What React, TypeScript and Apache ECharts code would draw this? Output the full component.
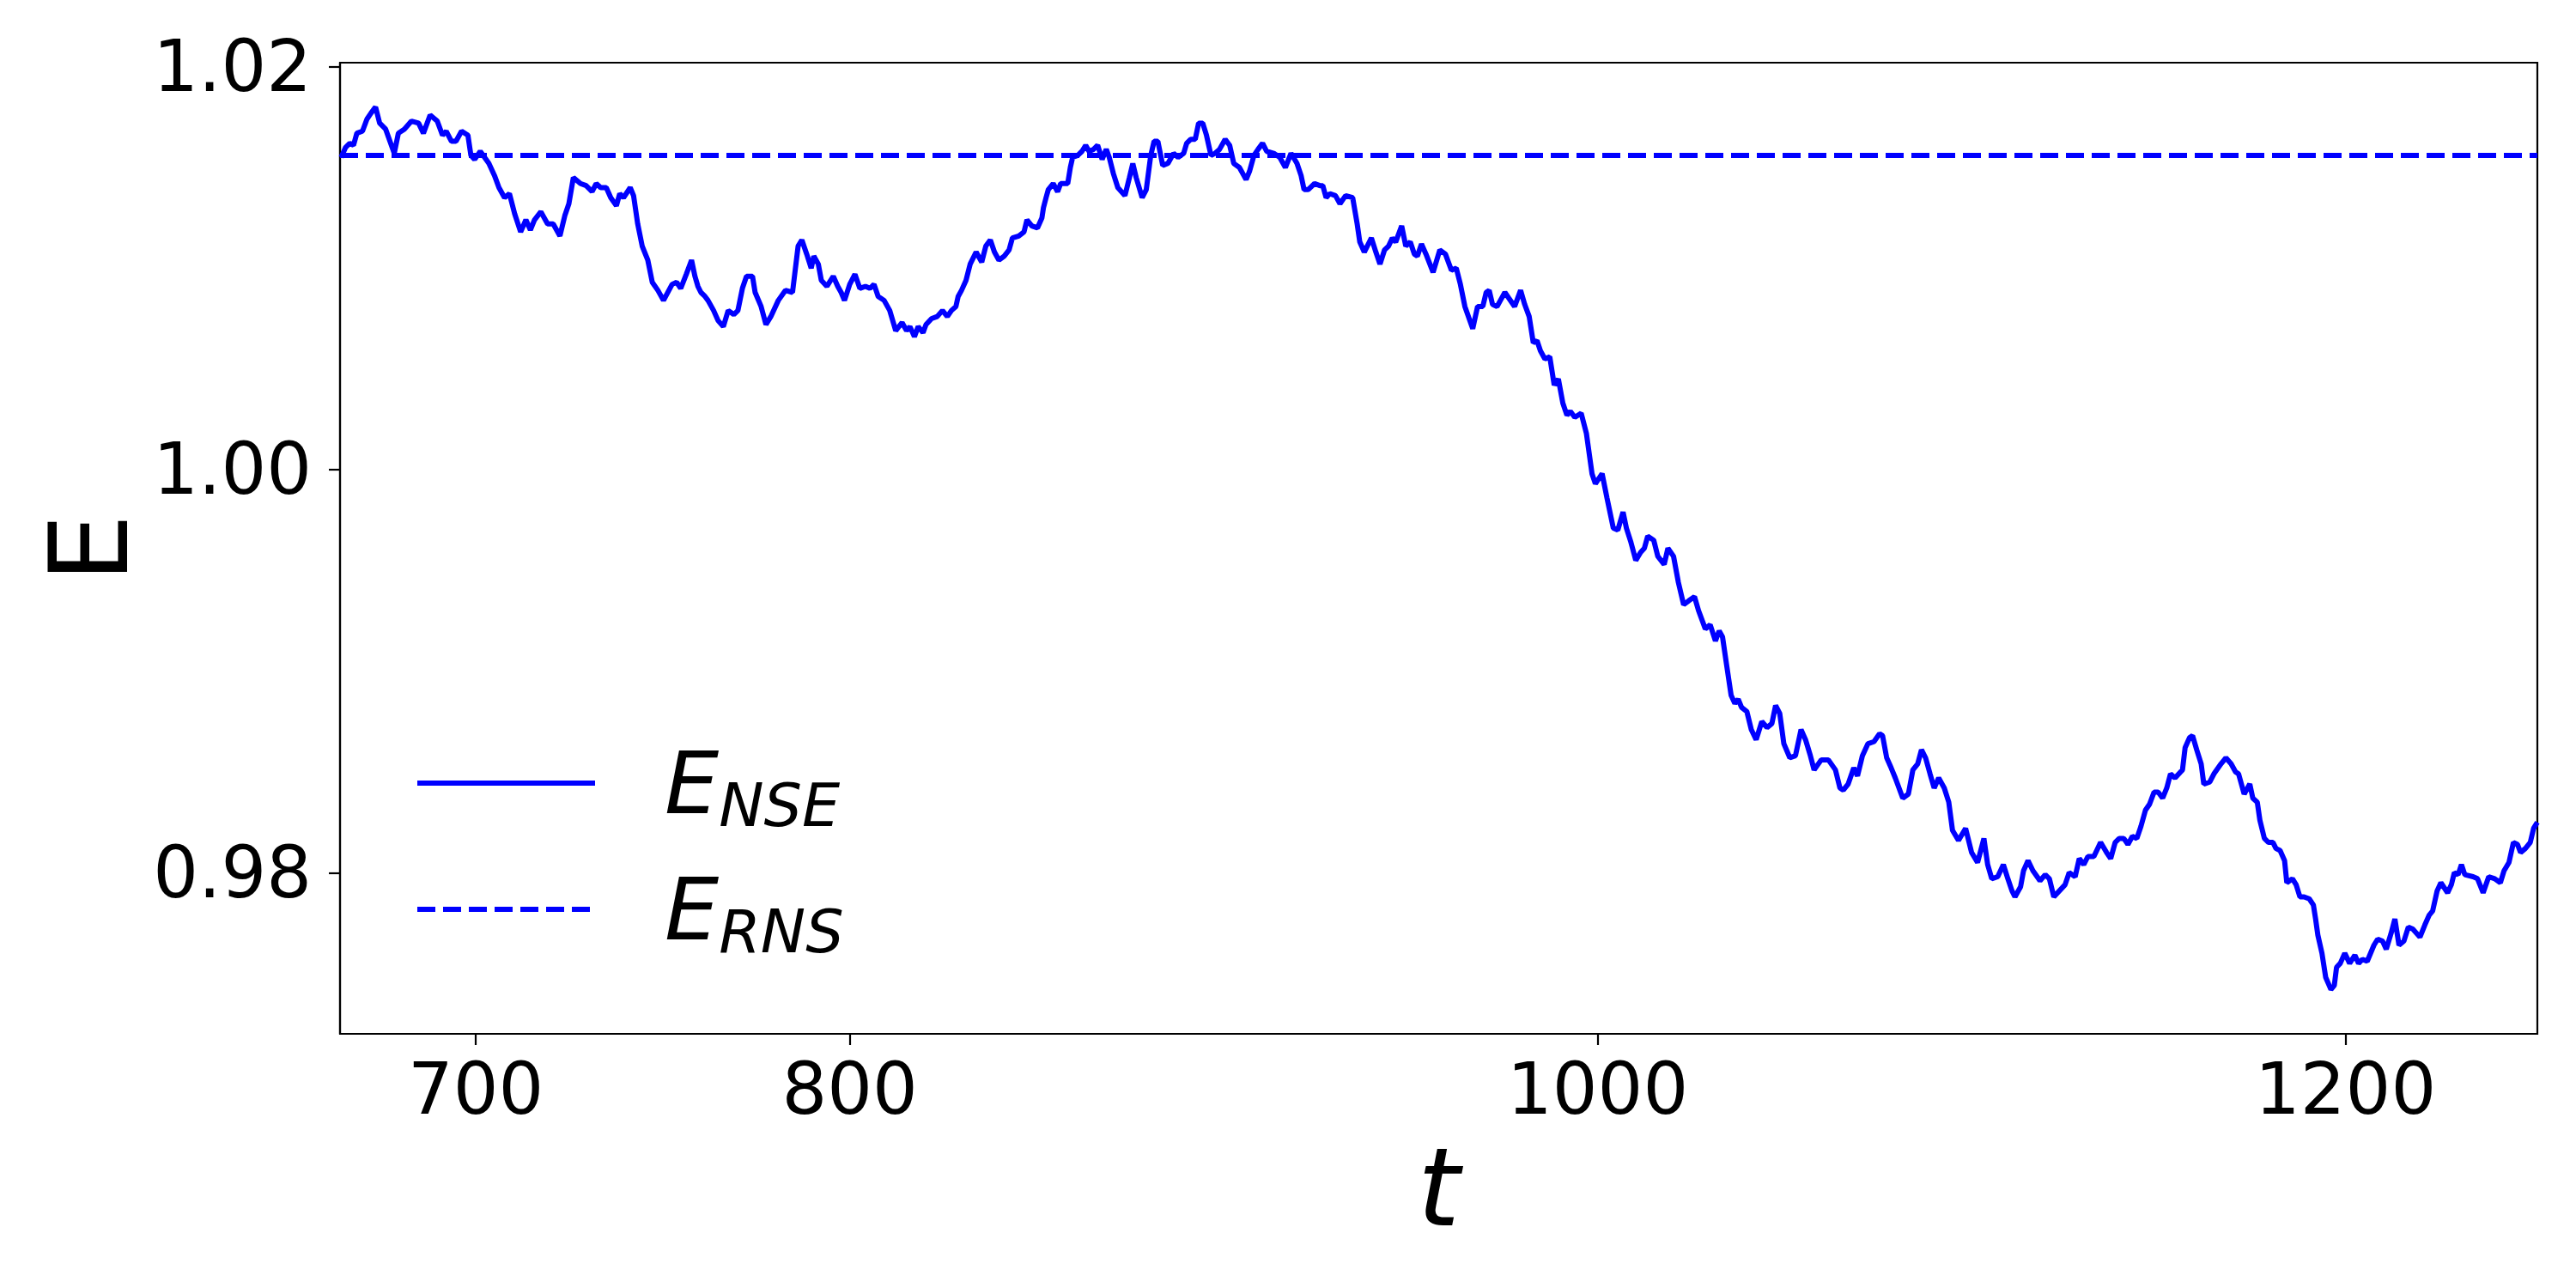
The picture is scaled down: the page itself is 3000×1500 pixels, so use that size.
import React, { useEffect, useRef } from "react";
import * as echarts from "echarts";

// time samples of the NSE energy curve
const tNSE: number[] = [
  664.0, 665.2, 666.3, 667.3, 668.2, 669.7, 670.9, 672.0, 673.2, 674.3, 675.9, 678.2, 679.3, 680.9, 682.8, 684.7, 686.0, 687.8, 689.7, 691.1,
  692.1, 693.5, 694.7, 696.2, 697.9, 698.7, 699.7, 701.2, 703.5, 705.0, 706.2, 707.7, 709.0, 710.4, 712.0, 713.4, 714.6, 715.7, 717.4, 719.2,
  720.7, 722.5, 723.8, 724.9, 726.1, 728.0, 729.5, 731.1, 732.2, 733.4, 734.9, 736.1, 737.6, 738.5, 739.5, 741.3, 742.2, 743.3, 744.5, 746.0,
  747.2, 748.7, 750.2, 752.5, 753.7, 754.8, 756.3, 757.7, 758.6, 759.4, 760.2, 761.3, 762.1, 763.6, 764.8, 766.2, 767.5, 769.0, 770.1, 771.3,
  772.4, 774.0, 774.7, 776.3, 777.6, 778.9, 780.9, 782.8, 784.7, 786.2, 787.2, 788.5, 789.7, 790.4, 791.6, 792.4, 793.9, 795.6, 796.8, 797.7,
  798.6, 800.0, 801.4, 802.7, 804.2, 805.4, 806.5, 807.6, 809.2, 810.7, 812.3, 814.0, 815.2, 816.1, 817.3, 818.3, 819.6, 820.4, 821.9, 823.4,
  824.8, 826.1, 827.2, 828.4, 829.0, 829.9, 831.1, 832.2, 833.8, 835.3, 836.4, 837.6, 838.7, 839.9, 841.3, 842.6, 843.5, 845.2, 846.6, 847.4,
  848.7, 850.2, 851.4, 851.8, 852.5, 853.1, 854.4, 855.6, 856.4, 858.3, 859.0, 859.6, 861.0, 862.1, 863.1, 864.0, 865.2, 866.3, 867.5, 868.6,
  869.4, 870.5, 871.7, 873.6, 874.8, 875.7, 876.6, 878.2, 879.3, 880.5, 881.4, 882.4, 883.7, 885.1, 886.6, 887.8, 889.3, 890.1, 891.2, 892.4,
  893.3, 894.4, 895.4, 896.6, 897.7, 898.9, 900.4, 901.6, 902.7, 904.2, 906.0, 906.9, 908.1, 909.2, 910.4, 911.5, 913.4, 915.0, 916.5, 918.0,
  919.6, 920.7, 921.5, 922.6, 924.3, 925.7, 926.5, 927.4, 928.4, 929.9, 931.1, 932.6, 934.5, 935.7, 936.4, 937.6, 939.5, 940.7, 941.8, 943.0,
  944.1, 945.1, 946.0, 947.6, 948.7, 949.9, 951.0, 951.8, 952.9, 954.1, 956.0, 957.8, 959.3, 960.9, 962.2, 963.3, 964.5, 966.6, 967.9, 969.3,
  970.2, 971.0, 971.9, 973.1, 974.0, 975.2, 976.3, 977.8, 979.4, 980.5, 981.7, 982.8, 983.8, 984.7, 985.9, 987.2, 988.4, 989.5, 990.7, 991.8,
  992.7, 993.9, 995.6, 997.0, 998.5, 999.4, 1001.2, 1002.5, 1004.2, 1005.4, 1006.8, 1007.7, 1008.9, 1010.2, 1011.5, 1012.5, 1013.4, 1015.0, 1016.1, 1017.8,
  1018.8, 1020.3, 1021.6, 1023.0, 1024.4, 1025.9, 1027.0, 1028.8, 1030.1, 1031.5, 1032.5, 1033.4, 1034.5, 1035.7, 1036.7, 1037.6, 1038.5, 1039.9, 1041.1, 1042.4,
  1043.9, 1045.3, 1046.6, 1047.6, 1048.7, 1049.8, 1051.4, 1052.9, 1054.4, 1055.6, 1056.9, 1057.9, 1059.8, 1061.7, 1063.6, 1064.8, 1065.7, 1067.0, 1068.5, 1069.5,
  1070.8, 1072.3, 1073.9, 1075.4, 1076.2, 1077.3, 1078.5, 1079.6, 1081.6, 1083.1, 1084.3, 1085.6, 1086.6, 1087.7, 1088.9, 1090.0, 1091.2, 1092.7, 1093.9, 1094.9,
  1096.5, 1098.4, 1100.0, 1101.6, 1103.3, 1104.3, 1105.4, 1107.0, 1108.5, 1109.7, 1110.8, 1111.6, 1113.1, 1113.9, 1115.1, 1116.4, 1118.3, 1119.7, 1120.8, 1122.0,
  1123.5, 1125.0, 1126.1, 1127.7, 1128.8, 1130.0, 1131.1, 1132.7, 1134.5, 1136.1, 1137.2, 1138.4, 1139.5, 1140.7, 1141.8, 1143.0, 1144.2, 1145.3, 1146.5, 1147.6,
  1148.8, 1149.9, 1151.1, 1152.2, 1153.2, 1154.4, 1156.4, 1157.1, 1158.3, 1159.1, 1160.2, 1161.4, 1162.1, 1163.7, 1164.8, 1166.7, 1168.0, 1169.4, 1170.6, 1171.4,
  1172.9, 1174.4, 1175.2, 1176.4, 1177.1, 1178.3, 1179.4, 1180.6, 1181.4, 1182.5, 1183.7, 1184.3, 1185.8, 1186.8, 1187.8, 1188.9, 1190.3, 1191.4, 1192.0, 1192.6,
  1193.7, 1194.7, 1196.1, 1197.0, 1197.6, 1198.6, 1199.8, 1201.1, 1202.5, 1203.5, 1204.5, 1205.8, 1207.6, 1208.6, 1209.9, 1210.9, 1212.2, 1213.2, 1214.3, 1215.6,
  1216.8, 1218.0, 1219.9, 1221.2, 1222.4, 1223.3, 1224.5, 1225.5, 1227.3, 1228.3, 1229.1, 1230.1, 1231.0, 1231.9, 1234.1, 1235.3, 1236.8, 1238.3, 1239.9, 1241.4,
  1242.4, 1243.7, 1244.9, 1246.0, 1246.8, 1248.1, 1249.4, 1250.3, 1251.3,
];

// energy values of the NSE curve
const eNSE: number[] = [
  1.0155, 1.0160, 1.0162, 1.0161, 1.0167, 1.0168, 1.0174, 1.0177, 1.0180, 1.0172, 1.0169, 1.0157, 1.0167, 1.0169, 1.0173, 1.0172, 1.0167, 1.0176, 1.0173, 1.0166,
  1.0168, 1.0163, 1.0163, 1.0168, 1.0166, 1.0156, 1.0154, 1.0158, 1.0152, 1.0146, 1.0140, 1.0135, 1.0137, 1.0127, 1.0118, 1.0124, 1.0119, 1.0124, 1.0128, 1.0122,
  1.0122, 1.0116, 1.0126, 1.0132, 1.0145, 1.0142, 1.0141, 1.0138, 1.0142, 1.0140, 1.0140, 1.0135, 1.0131, 1.0137, 1.0135, 1.0140, 1.0136, 1.0122, 1.0111, 1.0104,
  1.0093, 1.0089, 1.0084, 1.0092, 1.0093, 1.0090, 1.0097, 1.0104, 1.0096, 1.0091, 1.0088, 1.0086, 1.0084, 1.0079, 1.0074, 1.0071, 1.0079, 1.0077, 1.0079, 1.0090,
  1.0096, 1.0096, 1.0088, 1.0081, 1.0072, 1.0076, 1.0084, 1.0089, 1.0088, 1.0111, 1.0114, 1.0107, 1.0100, 1.0106, 1.0102, 1.0094, 1.0091, 1.0096, 1.0091, 1.0088,
  1.0084, 1.0092, 1.0097, 1.0090, 1.0091, 1.0090, 1.0092, 1.0086, 1.0084, 1.0079, 1.0069, 1.0073, 1.0069, 1.0071, 1.0066, 1.0071, 1.0068, 1.0072, 1.0075, 1.0076,
  1.0079, 1.0076, 1.0079, 1.0081, 1.0086, 1.0089, 1.0094, 1.0102, 1.0108, 1.0103, 1.0111, 1.0114, 1.0108, 1.0104, 1.0106, 1.0109, 1.0115, 1.0116, 1.0118, 1.0124,
  1.0121, 1.0120, 1.0125, 1.0130, 1.0135, 1.0139, 1.0142, 1.0138, 1.0142, 1.0142, 1.0150, 1.0155, 1.0156, 1.0158, 1.0161, 1.0158, 1.0159, 1.0161, 1.0154, 1.0159,
  1.0155, 1.0147, 1.0140, 1.0136, 1.0145, 1.0152, 1.0145, 1.0135, 1.0139, 1.0156, 1.0163, 1.0163, 1.0151, 1.0152, 1.0157, 1.0155, 1.0157, 1.0162, 1.0164, 1.0164,
  1.0172, 1.0172, 1.0166, 1.0156, 1.0157, 1.0159, 1.0164, 1.0161, 1.0152, 1.0150, 1.0144, 1.0148, 1.0156, 1.0159, 1.0162, 1.0158, 1.0157, 1.0155, 1.0150, 1.0157,
  1.0152, 1.0146, 1.0139, 1.0139, 1.0142, 1.0141, 1.0141, 1.0135, 1.0137, 1.0136, 1.0132, 1.0136, 1.0135, 1.0122, 1.0113, 1.0108, 1.0115, 1.0108, 1.0102, 1.0109,
  1.0111, 1.0115, 1.0113, 1.0121, 1.0111, 1.0113, 1.0107, 1.0106, 1.0112, 1.0107, 1.0098, 1.0109, 1.0107, 1.0099, 1.0100, 1.0092, 1.0081, 1.0070, 1.0081, 1.0081,
  1.0088, 1.0089, 1.0082, 1.0081, 1.0084, 1.0088, 1.0085, 1.0081, 1.0089, 1.0082, 1.0076, 1.0063, 1.0064, 1.0059, 1.0055, 1.0056, 1.0042, 1.0045, 1.0033, 1.0027,
  1.0029, 1.0026, 1.0028, 1.0018, 0.9998, 0.9993, 0.9998, 0.9986, 0.9971, 0.9970, 0.9979, 0.9971, 0.9964, 0.9955, 0.9959, 0.9961, 0.9967, 0.9965, 0.9957, 0.9953,
  0.9961, 0.9957, 0.9944, 0.9933, 0.9935, 0.9937, 0.9930, 0.9921, 0.9923, 0.9915, 0.9920, 0.9917, 0.9903, 0.9888, 0.9884, 0.9886, 0.9882, 0.9880, 0.9871, 0.9866,
  0.9875, 0.9872, 0.9874, 0.9883, 0.9879, 0.9864, 0.9857, 0.9858, 0.9871, 0.9866, 0.9858, 0.9851, 0.9856, 0.9856, 0.9851, 0.9842, 0.9841, 0.9844, 0.9852, 0.9848,
  0.9858, 0.9864, 0.9865, 0.9869, 0.9868, 0.9857, 0.9852, 0.9847, 0.9837, 0.9839, 0.9851, 0.9854, 0.9861, 0.9857, 0.9849, 0.9842, 0.9847, 0.9842, 0.9835, 0.9821,
  0.9816, 0.9822, 0.9810, 0.9805, 0.9817, 0.9804, 0.9797, 0.9798, 0.9804, 0.9797, 0.9791, 0.9788, 0.9793, 0.9801, 0.9806, 0.9801, 0.9796, 0.9799, 0.9797, 0.9788,
  0.9791, 0.9794, 0.9800, 0.9798, 0.9807, 0.9804, 0.9808, 0.9808, 0.9815, 0.9810, 0.9807, 0.9815, 0.9817, 0.9817, 0.9814, 0.9818, 0.9817, 0.9823, 0.9831, 0.9834,
  0.9840, 0.9840, 0.9837, 0.9842, 0.9849, 0.9847, 0.9851, 0.9862, 0.9867, 0.9868, 0.9861, 0.9854, 0.9844, 0.9845, 0.9849, 0.9854, 0.9857, 0.9854, 0.9850, 0.9849,
  0.9839, 0.9844, 0.9837, 0.9835, 0.9826, 0.9817, 0.9815, 0.9815, 0.9812, 0.9811, 0.9806, 0.9795, 0.9797, 0.9794, 0.9788, 0.9788, 0.9787, 0.9784, 0.9777, 0.9769,
  0.9760, 0.9748, 0.9742, 0.9744, 0.9753, 0.9755, 0.9760, 0.9755, 0.9759, 0.9755, 0.9757, 0.9756, 0.9764, 0.9767, 0.9766, 0.9762, 0.9770, 0.9777, 0.9764, 0.9766,
  0.9773, 0.9772, 0.9768, 0.9774, 0.9779, 0.9781, 0.9791, 0.9795, 0.9790, 0.9794, 0.9800, 0.9799, 0.9804, 0.9799, 0.9798, 0.9797, 0.9790, 0.9798, 0.9797, 0.9795,
  0.9801, 0.9805, 0.9815, 0.9814, 0.9810, 0.9812, 0.9815, 0.9822, 0.9825,
];

// reference (RNS) energy level, constant over the time span
const tRNS: number[] = [663.7, 1251.3];
const eRNS: number[] = [1.0156, 1.0156];

const xTicks: number[] = [700, 800, 1000, 1200];
const yTicks: number[] = [0.98, 1.0, 1.02];
const xRange: number[] = [663.7, 1251.3];
const yRange: number[] = [0.972, 1.0202];

const seriesNames: string[] = ["NSE", "RNS"];

const FONT = "DejaVu Sans";
const LINE_W = 6;

export default function App() {
  const ref = useRef<HTMLDivElement>(null);

  useEffect(() => {
    if (!ref.current) return;
    const chart = echarts.init(ref.current, null, { renderer: "svg" });

    const nseData = tNSE.map((t, i) => [t, eNSE[i]]);
    const rnsData = tRNS.map((t, i) => [t, eRNS[i]]);

    const option: any = {
      animation: false,
      backgroundColor: "#ffffff",
      grid: {
        left: 396,
        right: 45,
        top: 73,
        bottom: 296,
        show: true,
        borderColor: "#000",
        borderWidth: 2.2,
        backgroundColor: "transparent",
        containLabel: false,
        outerBoundsMode: "none",
      },
      legend: {
        show: true,
        orient: "vertical",
        left: 483,
        top: 851,
        padding: 0,
        itemGap: 25,
        itemWidth: 207,
        itemHeight: 20,
        selectedMode: false,
        data: seriesNames,
        itemStyle: { opacity: 0, borderWidth: 0 },
        lineStyle: { width: LINE_W },
        formatter: (name: string) => `{e|E}{s|${name}}`,
        textStyle: {
          padding: [0, 0, 0, 76],
          rich: {
            e: {
              fontFamily: FONT,
              fontStyle: "italic",
              fontSize: 100,
              lineHeight: 100,
              color: "#000",
            },
            s: {
              fontFamily: FONT,
              fontStyle: "italic",
              fontSize: 70,
              lineHeight: 70,
              padding: [52, 0, 0, 0],
              color: "#000",
            },
          },
        },
      },
      xAxis: {
        type: "value",
        min: xRange[0],
        max: xRange[1],
        name: "t",
        nameLocation: "middle",
        nameGap: 116,
        nameTextStyle: {
          fontFamily: FONT,
          fontStyle: "italic",
          fontSize: 126,
          color: "#000",
        },
        splitLine: { show: false },
        axisLine: { show: true, onZero: false, lineStyle: { color: "#000", width: 2.2 } },
        axisTick: {
          show: true,
          length: 13,
          inside: false,
          customValues: xTicks,
          lineStyle: { color: "#000", width: 2.2 },
        },
        axisLabel: {
          show: true,
          customValues: xTicks,
          margin: 23,
          fontFamily: FONT,
          fontSize: 83,
          color: "#000",
          formatter: (v: number) => String(Math.round(v)),
        },
      },
      yAxis: {
        type: "value",
        min: yRange[0],
        max: yRange[1],
        name: "E",
        nameLocation: "middle",
        nameRotate: 90,
        nameGap: 227,
        nameTextStyle: {
          fontFamily: FONT,
          fontSize: 126,
          color: "#000",
        },
        splitLine: { show: false },
        axisLine: { show: true, onZero: false, lineStyle: { color: "#000", width: 2.2 } },
        axisTick: {
          show: true,
          length: 13,
          inside: false,
          customValues: yTicks,
          lineStyle: { color: "#000", width: 2.2 },
        },
        axisLabel: {
          show: true,
          customValues: yTicks,
          margin: 33,
          fontFamily: FONT,
          fontSize: 83,
          color: "#000",
          formatter: (v: number) => v.toFixed(2),
        },
      },
      series: [
        {
          name: seriesNames[0],
          type: "line",
          data: nseData,
          symbol: "none",
          showSymbol: false,
          smooth: false,
          clip: true,
          lineStyle: { color: "#0000ff", width: LINE_W, type: "solid" },
          itemStyle: { color: "#0000ff" },
          z: 3,
        },
        {
          name: seriesNames[1],
          type: "line",
          data: rnsData,
          symbol: "none",
          showSymbol: false,
          clip: true,
          lineStyle: { color: "#0000ff", width: LINE_W, type: [21, 9] },
          itemStyle: { color: "#0000ff" },
          z: 2,
        },
      ],
    };

    chart.setOption(option);
    return () => {
      chart.dispose();
    };
  }, []);

  return (
    <div
      ref={ref}
      style={{ position: "fixed", left: 0, top: 0, width: 3000, height: 1500, background: "#fff" }}
    />
  );
}
